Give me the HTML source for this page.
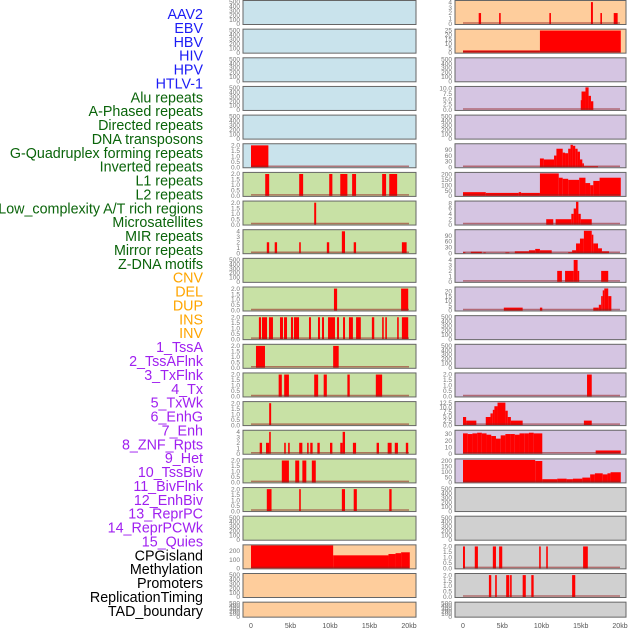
<!DOCTYPE html>
<html><head><meta charset="utf-8"><style>
html,body{margin:0;padding:0;background:#fff;}
svg{display:block;font-family:"Liberation Sans",sans-serif;}
</style></head><body>
<svg id="chart" width="630" height="630" viewBox="0 0 630 630"></svg>
<script>
const trackLabels = ["AAV2","EBV","HBV","HIV","HPV","HTLV-1","Alu repeats","A-Phased repeats","Directed repeats","DNA transposons","G-Quadruplex forming repeats","Inverted repeats","L1 repeats","L2 repeats","Low_complexity A/T rich regions","Microsatellites","MIR repeats","Mirror repeats","Z-DNA motifs","CNV","DEL","DUP","INS","INV","1_TssA","2_TssAFlnk","3_TxFlnk","4_Tx","5_TxWk","6_EnhG","7_Enh","8_ZNF_Rpts","9_Het","10_TssBiv","11_BivFlnk","12_EnhBiv","13_ReprPC","14_ReprPCWk","15_Quies","CPGisland","Methylation","Promoters","ReplicationTiming","TAD_boundary"];
const labelColors = ["#1c1cf5","#1c1cf5","#1c1cf5","#1c1cf5","#1c1cf5","#1c1cf5","#0a640a","#0a640a","#0a640a","#0a640a","#0a640a","#0a640a","#0a640a","#0a640a","#0a640a","#0a640a","#0a640a","#0a640a","#0a640a","#ffa500","#ffa500","#ffa500","#ffa500","#ffa500","#a020f0","#a020f0","#a020f0","#a020f0","#a020f0","#a020f0","#a020f0","#a020f0","#a020f0","#a020f0","#a020f0","#a020f0","#a020f0","#a020f0","#a020f0","#000","#000","#000","#000","#000"];
const xTicks = [0,5,10,15,20];
const xTickLabels = ["0","5kb","10kb","15kb","20kb"];

const T500 = ["0","100","200","300","400","500"];
const T2 = ["0.0","0.5","1.0","1.5","2.0"];
const T4 = ["0","1","2","3","4"];
const leftBg = ["#c9e3ec","#c9e3ec","#c9e3ec","#c9e3ec","#c9e3ec","#c9e3ec","#c8e1a5","#c8e1a5","#c8e1a5","#c8e1a5","#c8e1a5","#c8e1a5","#c8e1a5","#c8e1a5","#c8e1a5","#c8e1a5","#c8e1a5","#c8e1a5","#c8e1a5","#fecd9c","#fecd9c","#fecd9c"];
const leftMax = [520,520,520,520,520,2.1,2.1,2.1,4.2,520,2.1,2.1,2.1,2.1,2.1,4.2,2.1,2.1,520,265,520,520];
const leftTicks = [T500,T500,T500,T500,T500,T2,T2,T2,T4,T500,T2,T2,T2,T2,T2,T4,T2,T2,T500,["0","100","200"],T500,T500];
const leftSegs = [
 [],[],[],[],[],
 [[0,2.2,2]],
 [[1.8,2.3,2],[6.1,6.6,2],[9.9,10.3,2],[11.3,12.2,2],[12.8,13.3,2],[16.6,17.1,2],[17.5,18.5,2]],
 [[8.0,8.25,2]],
 [[2.0,2.3,2],[3.0,3.3,2],[6.1,6.3,2],[9.6,9.9,2],[11.5,11.9,4],[13.0,13.3,2],[19.1,19.7,2]],
 [],
 [[10.5,10.9,2],[19.0,19.9,2]],
 [[1.0,1.27,2],[1.39,2.03,2],[2.28,2.78,2],[3.67,4.05,2],[4.18,4.56,2],[5.06,5.32,2],[5.44,6.08,2],[7.34,7.59,2],[8.48,8.73,2],[8.99,9.24,2],[9.75,10.63,2],[10.89,11.14,2],[11.65,11.9,2],[12.4,12.9,2],[13.3,13.9,2],[15.3,15.6,2],[16.6,16.8,2],[17.0,17.2,2],[18.5,18.7,2],[19.1,19.9,2]],
 [[0.63,1.77,2],[10.4,11.1,2]],
 [[3.5,3.9,2],[4.2,4.8,2],[8.0,8.5,2],[9.2,9.6,2],[12.2,12.5,2],[15.8,16.6,2]],
 [[2.3,2.55,2]],
 [[1.1,1.4,2],[1.9,2.3,2],[2.3,2.5,4],[4.2,4.4,2],[4.7,4.9,2],[6.1,6.5,2],[7.1,7.3,2],[7.5,7.8,2],[8.4,8.7,2],[10.0,10.3,2],[11.3,11.6,2],[11.6,11.9,4],[12.9,13.3,2],[15.9,16.2,2],[17.3,17.8,2],[18.2,18.6,2],[19.6,19.9,2]],
 [[3.9,4.8,2],[5.6,6.1,2],[6.5,7.0,2],[7.7,8.2,2]],
 [[2.0,2.6,2],[6.1,6.3,2],[11.5,11.9,2],[13.0,13.4,2],[17.5,17.8,2]],
 [],
 [[0,10.4,265],[10.4,17.4,150],[17.4,18.3,165],[18.3,19.0,175],[19.0,20.1,185]],
 [],[]
];
const rightBg = ["#fecd9c","#fecd9c","#d5c5e2","#d5c5e2","#d5c5e2","#d5c5e2","#d5c5e2","#d5c5e2","#d5c5e2","#d5c5e2","#d5c5e2","#d5c5e2","#d5c5e2","#d5c5e2","#d5c5e2","#d5c5e2","#d5c5e2","#d0d0d0","#d0d0d0","#d0d0d0","#d0d0d0","#d0d0d0"];
const rightMax = [4.2,26,520,10.6,520,118,215,8.6,118,4.2,24,520,520,2.1,12.8,35,215,520,520,2.1,2.1,520];
const rightTicks = [T4,["0","5","10","15","20","25"],T500,["0.0","2.5","5.0","7.5","10.0"],T500,["0","30","60","90"],["0","50","100","150","200"],["0","2","4","6","8"],["0","30","60","90"],T4,["0","5","10","15","20"],T500,T500,T2,["0.0","2.5","5.0","7.5","10.0","12.5"],["0","10","20","30"],["0","50","100","150","200"],T500,T500,T2,T2,T500];
const rightSegs = [
 [[2.0,2.3,2],[4.6,4.8,2],[11.0,11.2,2],[16.3,16.55,4],[17.5,17.7,2],[19.2,19.7,2]],
 [[0,9.8,2.5],[9.8,20.1,25]],
 [],
 [[15.0,15.1,4.5],[15.1,15.6,8.5],[15.6,16.0,10.4],[16.0,16.3,6.5],[16.3,16.6,4]],
 [],
 [[9.8,10.3,45],[10.3,11.6,40],[11.6,11.9,60],[11.9,12.7,95],[12.7,13.0,75],[13.0,13.4,72],[13.4,13.7,95],[13.7,14.0,115],[14.0,14.3,110],[14.3,14.6,95],[14.6,14.9,80],[14.9,15.2,40],[15.2,15.4,20],[15.4,17.2,5]],
 [[0,2.9,35],[2.9,7.1,28],[7.1,7.4,35],[7.4,9.8,28],[9.8,12.2,210],[12.2,12.7,170],[12.7,13.4,160],[13.4,14.8,150],[14.8,15.6,170],[15.6,16.2,120],[16.2,16.6,100],[16.6,17.4,140],[17.4,20.1,170]],
 [[10.6,11.5,2],[11.8,13.8,2],[13.8,14.1,4],[14.1,14.4,6],[14.4,14.7,8.5],[14.7,15.0,4],[15.0,16.4,2]],
 [[0,0.3,5],[1.0,2.4,8],[2.6,2.9,4],[5.4,5.9,4],[6.6,8.4,10],[8.4,9.2,15],[9.2,9.8,22],[9.8,11.3,15],[13.4,13.9,5],[13.9,14.4,15],[14.4,14.9,50],[14.9,15.4,75],[15.4,16.4,115],[16.4,16.6,95],[16.6,17.2,50],[17.2,17.7,25],[17.7,18.6,10]],
 [[12.0,12.6,2],[13.0,14.1,2],[14.1,14.6,4],[14.6,14.8,2],[17.6,18.5,2]],
 [[5.2,7.6,3],[9.8,10.1,3],[16.6,17.3,3],[17.3,17.6,6],[17.6,17.8,15],[17.8,18.0,21],[18.0,18.5,23],[18.5,18.9,15]],
 [],[],
 [[15.8,16.4,2]],
 [[0,0.4,4.5],[0.4,1.7,2.5],[2.9,3.5,4.5],[3.5,3.8,6.5],[3.8,4.0,8.5],[4.0,4.4,10.5],[4.4,5.4,12.5],[5.4,5.7,8],[5.7,6.1,4.5],[6.1,7.6,2.5],[15.4,16.4,2.5]],
 [[0,0.6,31],[0.6,1.2,30],[1.2,1.8,31],[1.8,2.4,32],[2.4,3.0,31],[3.0,3.6,29],[3.6,4.2,27],[4.2,4.8,23],[4.8,5.4,28],[5.4,6.0,30],[6.0,6.6,30],[6.6,7.2,29],[7.2,7.8,31],[7.8,8.4,31],[8.4,9.0,32],[9.0,10.1,31],[16.9,20.1,5]],
 [[0,9.2,210],[9.2,10.1,200],[10.1,12.0,30],[12.0,13.2,35],[13.2,14.0,30],[14.0,15.2,35],[15.2,16.2,45],[16.2,16.8,75],[16.8,17.8,85],[17.8,18.4,75],[18.4,18.8,85],[18.8,20.1,95]],
 [],[],
 [[0,0.25,2],[1.5,1.9,2],[3.8,4.2,2],[4.6,5.0,2],[9.7,9.9,2],[10.6,10.8,2],[15.3,15.9,2]],
 [[3.3,3.6,2],[4.1,4.3,2],[5.5,5.9,2],[6.0,6.2,2],[7.6,8.0,2],[8.7,9.0,2],[13.9,14.3,2]],
 []
];

const NS = "http://www.w3.org/2000/svg";
const svg = document.getElementById("chart");
function mk(tag, attrs, parent){ const e=document.createElementNS(NS,tag); for(const k in attrs) e.setAttribute(k,attrs[k]); (parent||svg).appendChild(e); return e; }

const labelGroup = mk("g",{});


trackLabels.forEach((t,i)=>{
  const el = mk("text",{x:203,y:14+i*13.88+5,"text-anchor":"end","font-size":"14.3",fill:labelColors[i]},labelGroup);
  el.textContent = t;
  
  
});

const cols = [
  {x:243,w:173,x0:251,x1:409,bg:leftBg,max:leftMax,ticks:leftTicks,segs:leftSegs},
  {x:455,w:171,x0:463,x1:620,bg:rightBg,max:rightMax,ticks:rightTicks,segs:rightSegs}
];
cols.forEach((c,ci)=>{
  const xs = kb => c.x0 + kb/20*(c.x1-c.x0);
  for(let r=0;r<22;r++){
    const top = 0.5 + r*28.65;
    const h = r===21 ? 15 : 24;
    const g = mk("g",{});
    
    
    const bgr = mk("rect",{x:c.x,y:top,width:c.w,height:h,fill:c.bg[r]},g);
    
    
    const base = top+h-0.5;
    const ys = v => base - v/c.max[r]*(h-1);
    c.segs[r].forEach(s=>{
      const x1 = xs(s[0]), x2 = xs(s[1]);
      const w = Math.max(1.6, x2-x1);
      const b = mk("rect",{x:x1,y:ys(s[2]),width:w,height:base-ys(s[2]),fill:"#ff0000"},g);
      
      
    });
    if(c.segs[r].length){
      const bl = mk("line",{x1:xs(0),x2:xs(20),y1:base-1,y2:base-1,stroke:"rgba(150,30,30,0.55)","stroke-width":"1.5"},g);
      
      
    }
    const br = mk("rect",{x:c.x,y:top,width:c.w,height:h,fill:"none",stroke:"#666","stroke-width":"1"},g);
    
    
    c.ticks[r].forEach(lab=>{
      const ty = ys(parseFloat(lab));
      const t = mk("text",{x:c.x-3,y:ty+2.2,"text-anchor":"end","font-size":"6.5",fill:"#777"},g);
      t.textContent = lab;
      
      
    });
  }
  xTicks.forEach((v,i)=>{
    const t = mk("text",{x:xs(v),y:628,"text-anchor":"middle","font-size":"7",fill:"#555"});
    t.textContent = xTickLabels[i];
    
    
  });
});
</script>
</body></html>
